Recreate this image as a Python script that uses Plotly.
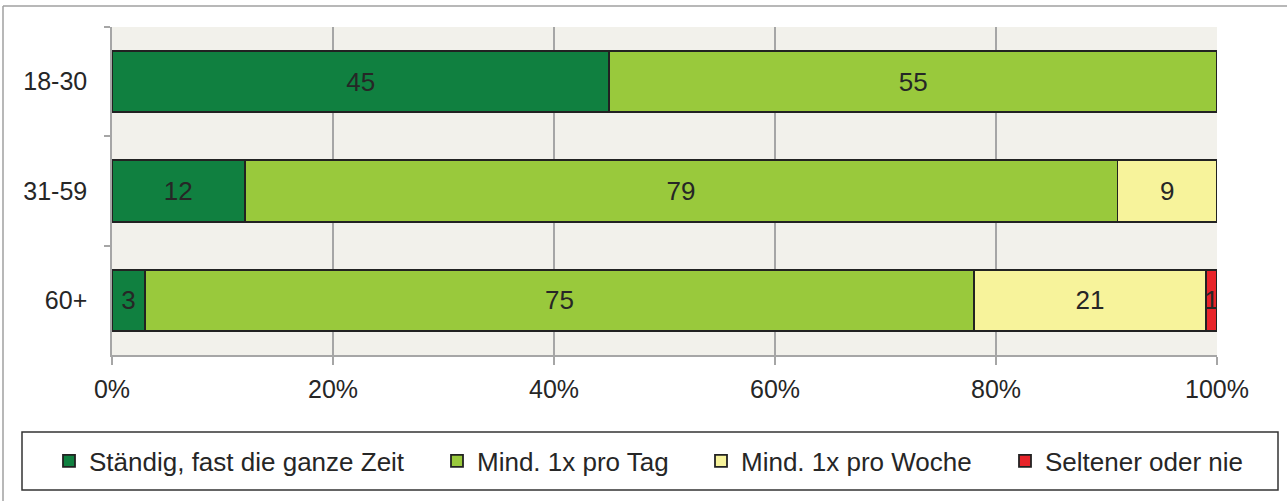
import plotly.graph_objects as go

# ---- data ----
age_groups = ["18-30", "31-59", "60+"]
series_names = ["Ständig, fast die ganze Zeit", "Mind. 1x pro Tag",
                "Mind. 1x pro Woche", "Seltener oder nie"]
staendig = [45, 12, 3]
pro_tag = [55, 79, 75]
pro_woche = [0, 9, 21]
selten = [0, 0, 1]
x_ticks = [0, 20, 40, 60, 80, 100]
x_tick_labels = ["0%", "20%", "40%", "60%", "80%", "100%"]

colors = ["#108040", "#99C93C", "#F7F39B", "#E8242A"]
series_values = [staendig, pro_tag, pro_woche, selten]

W, H = 1287, 501
L, R, T, B = 112, 1217, 27, 355
pw, ph = R - L, B - T

def px_x(p):
    return (p - L) / pw

def px_y(p):
    return (B - p) / ph

FONT = "Liberation Sans, Arial, sans-serif"
TXT = "#262626"

fig = go.Figure()
legend_ids = ["legend", "legend2", "legend3", "legend4"]
for name, vals, col, lg in zip(series_names, series_values, colors, legend_ids):
    fig.add_trace(go.Bar(
        y=age_groups, x=vals, name=name, orientation="h",
        marker=dict(color=col, line=dict(color="#222222", width=1.8)),
        text=[str(v) if v else "" for v in vals],
        textposition="inside", insidetextanchor="middle",
        constraintext="none",
        textfont=dict(size=26, color=TXT, family=FONT),
        width=0.56, legend=lg, hoverinfo="skip",
    ))

# legend item positions (text start x in px)
text_starts = [89, 477, 741, 1045]
leg_y = px_y(461)
layout_legends = {}
for lg, ts in zip(legend_ids, text_starts):
    layout_legends[lg] = dict(
        x=px_x(ts - 40), xanchor="left", y=leg_y, yanchor="middle",
        orientation="h", bgcolor="rgba(0,0,0,0)", borderwidth=0,
        font=dict(size=26, color=TXT, family=FONT),
    )

frame = dict(color="#A0A0A0", width=1.5)
fig.update_layout(
    width=W, height=H,
    margin=dict(l=L, r=W - R, t=T, b=H - B, pad=0),
    paper_bgcolor="white", plot_bgcolor="#F2F1EB",
    barmode="stack", bargap=0.44,
    showlegend=True,
    font=dict(family=FONT, size=25, color=TXT),
    xaxis=dict(
        range=[0, 100], tickvals=x_ticks, ticktext=x_tick_labels,
        showgrid=True, gridcolor="#A6A6A6", gridwidth=1.5,
        ticks="outside", ticklen=8, tickcolor="#A6A6A6", tickwidth=1.5,
        showline=True, linecolor="#A6A6A6", linewidth=1.5,
        zeroline=False, tickfont=dict(size=25, color=TXT),
        ticklabelstandoff=3,
    ),
    yaxis=dict(
        categoryorder="array", categoryarray=age_groups, autorange="reversed",
        ticks="outside", tickson="boundaries", ticklen=6,
        tickcolor="#A6A6A6", tickwidth=1.5,
        showline=True, linecolor="#A6A6A6", linewidth=1.5,
        showgrid=False, zeroline=False, tickfont=dict(size=25, color=TXT),
        ticklabelstandoff=18,
    ),
    shapes=[
        # outer frame (top and left edges)
        dict(type="line", xref="paper", yref="paper",
             x0=px_x(3), x1=px_x(1287), y0=px_y(6), y1=px_y(6), line=frame),
        dict(type="line", xref="paper", yref="paper",
             x0=px_x(3), x1=px_x(3), y0=px_y(6), y1=px_y(501), line=frame),
        # legend box
        dict(type="rect", xref="paper", yref="paper",
             x0=px_x(22), x1=px_x(1278), y0=px_y(432), y1=px_y(490),
             line=dict(color="#333333", width=1.5)),
    ],
    **layout_legends,
)

fig.write_html("out.html", config={"displayModeBar": False},
               post_script="document.body.style.margin='0';document.body.style.overflow='hidden';")
